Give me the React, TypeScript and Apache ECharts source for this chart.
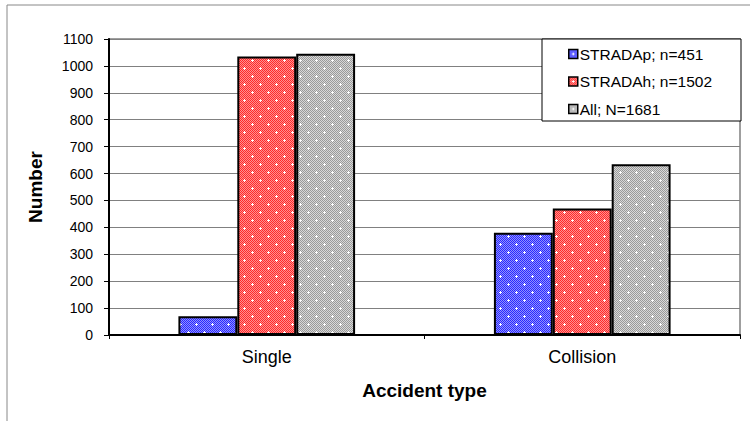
import React, { useEffect, useRef } from "react";
import * as echarts from "echarts";

const categories = ["Single", "Collision"];
const seriesNames = ["STRADAp; n=451", "STRADAh; n=1502", "All; N=1681"];
const stradap = [70, 380];
const stradah = [1035, 470];
const all = [1045, 635];
const yTicks = { min: 0, max: 1100, interval: 100 };

const FONT = "'Liberation Sans', Arial, sans-serif";

function makePattern(dark: string, light: string) {
  const size = 16;
  const c = document.createElement("canvas");
  c.width = size;
  c.height = size;
  const ctx = c.getContext("2d")!;
  for (let y = 0; y < size; y++) {
    for (let x = 0; x < size; x++) {
      ctx.fillStyle = (x + y) % 2 === 0 ? dark : light;
      ctx.fillRect(x, y, 1, 1);
    }
  }
  ctx.fillStyle = "#ffffff";
  const plus = (cx: number, cy: number) => {
    ctx.fillRect(cx - 1, cy, 3, 1);
    ctx.fillRect(cx, cy - 1, 1, 3);
  };
  plus(4, 4);
  plus(12, 12);
  return {
    image: c.toDataURL(),
    imageWidth: size,
    imageHeight: size,
    repeat: "repeat",
  } as any;
}

export default function App() {
  const ref = useRef<HTMLDivElement>(null);
  useEffect(() => {
    if (!ref.current) return;
    const chart = echarts.init(ref.current, undefined, { renderer: "svg" });
    const patterns = [
      makePattern("#2a2aff", "#9090ff"),
      makePattern("#ff2a2a", "#ff9090"),
      makePattern("#9a9a9a", "#d8d8d8"),
    ];
    const values = [stradap, stradah, all];
    chart.setOption({
      animation: false,
      backgroundColor: "#ffffff",
      textStyle: { fontFamily: FONT },
      grid: {
        left: 109,
        right: 15,
        top: 39,
        bottom: 86,
        show: true,
        borderColor: "#808080",
        borderWidth: 1.5,
        backgroundColor: "transparent",
      },
      graphic: [
        {
          type: "polyline",
          shape: { points: [[7, 421], [7, 5], [750, 5]] },
          style: { stroke: "#888888", lineWidth: 1, fill: "none" },
          silent: true,
        },
        {
          type: "rect",
          shape: { x: 542, y: 39, width: 199, height: 82 },
          style: { stroke: "#000000", lineWidth: 1, fill: "#ffffff" },
          z: 5,
          silent: true,
        },
      ],
      legend: {
        orient: "vertical",
        left: 563,
        top: 41,
        itemWidth: 9,
        itemHeight: 9,
        itemGap: 11.5,
        icon: "rect",
        z: 10,
        data: seriesNames,
        itemStyle: { borderColor: "#000", borderWidth: 1.5 },
        textStyle: {
          fontFamily: FONT,
          fontSize: 15.5,
          color: "#000",
          lineHeight: 16,
          padding: [0, 0, 0, -3],
        },
      },
      xAxis: {
        type: "category",
        data: categories,
        axisLine: { lineStyle: { color: "#000", width: 2 } },
        axisTick: { show: true, length: 4, lineStyle: { color: "#000" } },
        axisLabel: { fontFamily: FONT, fontSize: 18, color: "#000", margin: 13 },
        name: "Accident type",
        nameLocation: "middle",
        nameGap: 46,
        nameTextStyle: { fontFamily: FONT, fontSize: 19, fontWeight: "bold", color: "#000" },
      },
      yAxis: {
        type: "value",
        min: yTicks.min,
        max: yTicks.max,
        interval: yTicks.interval,
        axisLine: { show: true, lineStyle: { color: "#000", width: 2 } },
        axisTick: { show: true, length: 5, lineStyle: { color: "#000" } },
        splitLine: { lineStyle: { color: "#808080", width: 1 } },
        axisLabel: {
          fontFamily: FONT,
          fontSize: 14,
          color: "#000",
          margin: 16,
          formatter: (v: number) => String(v),
        },
        name: "Number",
        nameLocation: "middle",
        nameGap: 64,
        nameTextStyle: { fontFamily: FONT, fontSize: 19, fontWeight: "bold", color: "#000" },
      },
      series: seriesNames.map((name, i) => ({
        name,
        type: "bar",
        data: values[i],
        barGap: "0%",
        barCategoryGap: "44%",
        itemStyle: { color: patterns[i], borderColor: "#000", borderWidth: 2 },
      })),
    });
    return () => chart.dispose();
  }, []);
  return <div ref={ref} style={{ width: 755, height: 421, position: "absolute", left: 0, top: 0 }} />;
}
